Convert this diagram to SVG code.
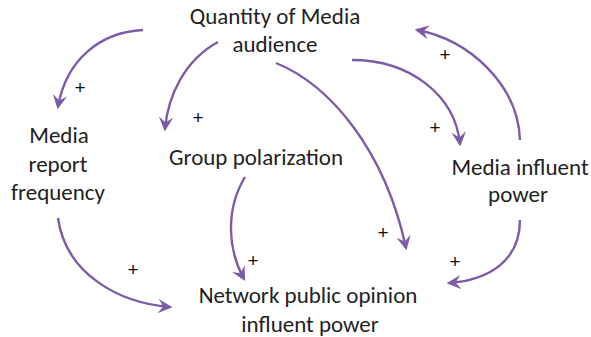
<svg xmlns="http://www.w3.org/2000/svg" width="591" height="337" viewBox="0 0 591 337">
<style>
.t{font-family:"Carlito","Lato","Liberation Sans",sans-serif;font-size:23px;fill:#222;text-anchor:middle}
.p{font-family:"Liberation Sans",sans-serif;font-size:19px;fill:#111;text-anchor:middle}
.c{fill:none;stroke:#7d5ba6;stroke-width:2.4;marker-end:url(#ah)}
</style>
<defs>
<marker id="ah" viewBox="0 0 12 12" refX="10" refY="6" markerWidth="6" markerHeight="6" markerUnits="strokeWidth" orient="auto">
<path d="M0,0 L12,6 L0,12 L4.5,6 Z" fill="#7d5ba6"/>
</marker>
</defs>
<rect width="591" height="337" fill="#fff"/>
<g id="n_quantity"><text class="t" x="275" y="24">Quantity of Media</text><text class="t" x="275" y="52">audience</text></g>
<g id="n_report"><text class="t" x="59" y="143">Media</text><text class="t" x="58" y="172">report</text><text class="t" x="58" y="200">frequency</text></g>
<g id="n_group"><text class="t" x="256" y="165">Group polarization</text></g>
<g id="n_influent"><text class="t" x="520" y="175">Media influent</text><text class="t" x="518" y="202">power</text></g>
<g id="n_network"><text class="t" x="308" y="303">Network public opinion</text><text class="t" x="310" y="332">influent power</text></g>
<g id="connectors">
<path class="c" d="M143,30 C100,32 66,60 58,107"/>
<path class="c" d="M218,42 C185,60 168,95 165,129"/>
<path class="c" d="M276,63 C330,85 385,150 406,248"/>
<path class="c" d="M352,60 C410,60 455,95 460,144"/>
<path class="c" d="M520,140 C518,85 470,40 417,30"/>
<path class="c" d="M58,218 C66,275 120,303 170,307"/>
<path class="c" d="M245,177 C225,210 228,250 244,279"/>
<path class="c" d="M520,220 C520,260 490,280 449,283"/>
</g>
<g id="labels">
<text class="p" x="80" y="94">+</text>
<text class="p" x="198" y="124">+</text>
<text class="p" x="383" y="239">+</text>
<text class="p" x="435" y="134">+</text>
<text class="p" x="445" y="61">+</text>
<text class="p" x="133" y="276">+</text>
<text class="p" x="253" y="267">+</text>
<text class="p" x="455" y="268">+</text>
</g>
</svg>
